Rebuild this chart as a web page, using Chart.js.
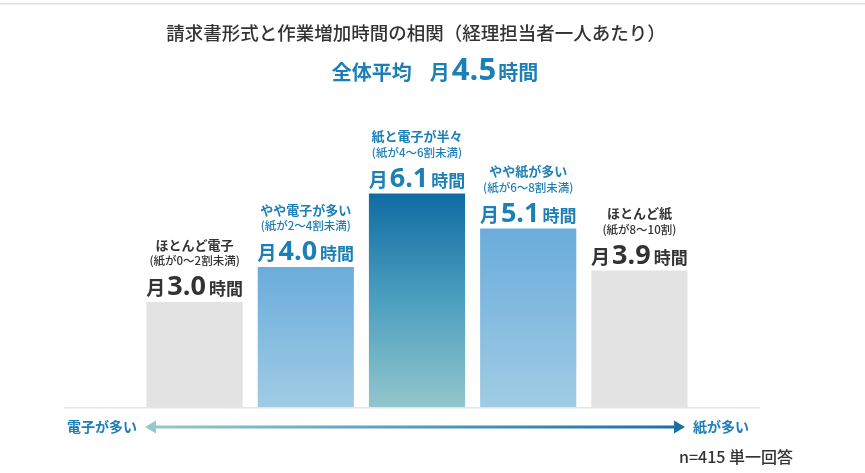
<!DOCTYPE html>
<html lang="ja">
<head>
<meta charset="utf-8">
<script src="https://cdn.jsdelivr.net/npm/chart.js@4.4.1/dist/chart.umd.min.js"></script>
<style>
  html, body { margin: 0; padding: 0; background: #fff; }
  #wrap { position: relative; width: 865px; height: 473px; }
</style>
</head>
<body>
<div id="wrap"><canvas id="chart" width="865" height="473"></canvas></div>
<script>
const JP = '"Noto Sans CJK JP", "Noto Sans", sans-serif';
const NUM = '"Open Sans", "Noto Sans", sans-serif';

const TITLE = '請求書形式と作業増加時間の相関（経理担当者一人あたり）';
const AVG_LABEL = '全体平均';
const AVG_VALUE = 4.5;

const categories = ['ほとんど電子', 'やや電子が多い', '紙と電子が半々', 'やや紙が多い', 'ほとんど紙'];
const subLabels = ['(紙が0〜2割未満)', '(紙が2〜4割未満)', '(紙が4〜6割未満)', '(紙が6〜8割未満)', '(紙が8〜10割)'];
const hours = [3.0, 4.0, 6.1, 5.1, 3.9];
const highlighted = [false, true, true, true, false];

const LEFT_NOTE = '電子が多い';
const RIGHT_NOTE = '紙が多い';
const SAMPLE_NOTE = 'n=415 単一回答';

const BLUE_TEXT = '#1c7fb6';
const DARK_TEXT = '#333333';

function barColor(context) {
    const chart = context.chart;
    const yScale = chart.scales.y;
    if (!yScale || !chart.chartArea) return '#e3e3e3';
    const i = context.dataIndex;
    if (!highlighted[i]) return '#e3e3e3';
    const top = yScale.getPixelForValue(hours[i]);
    const bottom = yScale.getPixelForValue(0);
    const g = chart.ctx.createLinearGradient(0, top, 0, bottom);
    if (i === 2) {
        g.addColorStop(0, '#0f6ca2');
        g.addColorStop(0.5, '#4c9fbf');
        g.addColorStop(1, '#92c6cc');
    } else {
        g.addColorStop(0, '#6aacdb');
        g.addColorStop(1, '#a0cce4');
    }
    return g;
}

// draw a row of text pieces centred on cx
function drawParts(ctx, parts, cx, y) {
    let total = 0;
    parts.forEach(p => { ctx.font = p.font; p.w = ctx.measureText(p.text).width; total += p.w + (p.gap || 0); });
    let x = cx - total / 2;
    ctx.textAlign = 'left';
    ctx.textBaseline = 'alphabetic';
    parts.forEach(p => {
        ctx.font = p.font;
        ctx.fillStyle = p.color;
        ctx.fillText(p.text, x, y);
        x += p.w + (p.gap || 0);
    });
}

const decorPlugin = {
    id: 'decor',
    afterDatasetsDraw(chart) {
        const ctx = chart.ctx;
        const meta = chart.getDatasetMeta(0);
        const base = chart.scales.y.getPixelForValue(0);
        ctx.save();

        // top rule
        ctx.fillStyle = '#e2e2e2';
        ctx.fillRect(0, 3, chart.width, 1.5);

        // title
        ctx.font = '500 18.5px ' + JP;
        ctx.fillStyle = DARK_TEXT;
        ctx.textAlign = 'center';
        ctx.textBaseline = 'middle';
        ctx.fillText(TITLE, 416, 33);

        // overall average
        drawParts(ctx, [
            { text: AVG_LABEL, font: 'bold 20px ' + JP, color: BLUE_TEXT, gap: 18 },
            { text: '月', font: 'bold 20px ' + JP, color: BLUE_TEXT, gap: 2 },
            { text: AVG_VALUE.toFixed(1), font: 'bold 31px ' + NUM, color: BLUE_TEXT, gap: 2 },
            { text: '時間', font: 'bold 20px ' + JP, color: BLUE_TEXT }
        ], 435, 80);

        // bar labels
        meta.data.forEach((bar, i) => {
            const col = highlighted[i] ? BLUE_TEXT : DARK_TEXT;
            const x = bar.x, top = bar.y;
            ctx.textAlign = 'center';
            ctx.textBaseline = 'middle';
            ctx.fillStyle = col;
            ctx.font = 'bold 13px ' + JP;
            ctx.fillText(categories[i], x, top - 57);
            ctx.font = '500 11.5px ' + JP;
            ctx.fillText(subLabels[i], x, top - 41);
            drawParts(ctx, [
                { text: '月', font: 'bold 19px ' + JP, color: col, gap: 2 },
                { text: hours[i].toFixed(1), font: 'bold 27px ' + NUM, color: col, gap: 3 },
                { text: '時間', font: 'bold 17px ' + JP, color: col }
            ], x, top - 7);
        });

        // baseline
        ctx.fillStyle = '#dfe7ea';
        ctx.fillRect(64, base, 696, 1.5);

        // direction arrow
        const ay = 427;
        const g = ctx.createLinearGradient(145, 0, 685, 0);
        g.addColorStop(0, '#93cbcd');
        g.addColorStop(1, '#1870a3');
        ctx.fillStyle = g;
        ctx.fillRect(153, ay - 1.5, 525, 3);
        ctx.fillStyle = '#93cbcd';
        ctx.beginPath();
        ctx.moveTo(145, ay); ctx.lineTo(156, ay - 6.5); ctx.lineTo(156, ay + 6.5); ctx.closePath();
        ctx.fill();
        ctx.fillStyle = '#1870a3';
        ctx.beginPath();
        ctx.moveTo(685, ay); ctx.lineTo(674, ay - 6.5); ctx.lineTo(674, ay + 6.5); ctx.closePath();
        ctx.fill();

        ctx.font = 'bold 14px ' + JP;
        ctx.fillStyle = BLUE_TEXT;
        ctx.textBaseline = 'middle';
        ctx.textAlign = 'left';
        ctx.fillText(LEFT_NOTE, 67, ay);
        ctx.fillText(RIGHT_NOTE, 693, ay);

        ctx.font = '500 16px ' + JP;
        ctx.fillStyle = DARK_TEXT;
        ctx.fillText(SAMPLE_NOTE, 679, 457);

        ctx.restore();
    }
};

new Chart(document.getElementById('chart'), {
    type: 'bar',
    data: {
        labels: categories,
        datasets: [{
            data: hours,
            backgroundColor: barColor,
            borderWidth: 0,
            categoryPercentage: 1,
            barPercentage: 0.865
        }]
    },
    options: {
        responsive: false,
        animation: false,
        devicePixelRatio: 1,
        layout: { padding: { left: 139, right: 170, top: 127, bottom: 66 } },
        scales: {
            x: { display: false },
            y: { display: false, min: 0, max: 8 }
        },
        plugins: { legend: { display: false }, tooltip: { enabled: false } }
    },
    plugins: [decorPlugin]
});
</script>
</body>
</html>
